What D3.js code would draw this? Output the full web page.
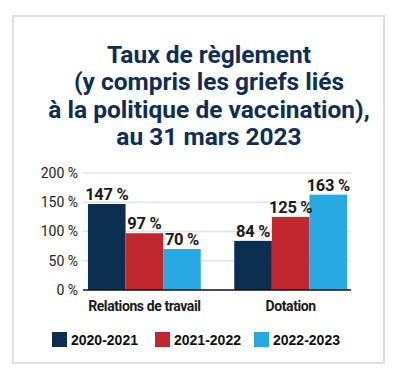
<!DOCTYPE html>
<html>
<head>
<meta charset="utf-8">
<script src="https://cdn.jsdelivr.net/npm/d3@7"></script>
<style>
  body { margin: 0; background: #fff; }
  svg { display: block; }
</style>
</head>
<body>
<svg id="chart" width="401" height="381"></svg>
<script>

// data
const categories = ["Relations de travail", "Dotation"];
const series = ["2020-2021", "2021-2022", "2022-2023"];
const values2020 = [147, 84];
const values2021 = [97, 125];
const values2022 = [70, 163];
const yTicks = [0, 50, 100, 150, 200];
const titleLines = ["Taux de règlement", "(y compris les griefs liés", "à la politique de vaccination),", "au 31 mars 2023"];

const colors = ["#0b2e51", "#c1272f", "#29a9e1"];
const allValues = [values2020, values2021, values2022];

const svg = d3.select('#chart');

// frame
svg.append('rect')
	.attr('x', 13).attr('y', 16)
	.attr('width', 371).attr('height', 347)
	.attr('fill', 'none')
	.attr('stroke', '#e0e0e0')
	.attr('stroke-width', 2);

// title
const title = svg.append('g').attr('class', 'title');
titleLines.forEach(function(line, i) {
	title.append('text')
		.attr('x', 209)
		.attr('y', 63 + i * 27.4)
		.attr('text-anchor', 'middle')
		.style('font-family', 'Roboto, sans-serif')
		.style('font-weight', 700)
		.style('font-size', '24.5px')
		.style('fill', '#0f2d57')
		.text(line);
});

// scales
const y = d3.scaleLinear().domain([0, 200]).range([290, 173]);
const x0 = d3.scaleBand().domain(categories).range([84, 351]).paddingInner(0.229).paddingOuter(0.027);
const x1 = d3.scaleBand().domain(series).range([0, x0.bandwidth()]);

// gridlines
svg.append('g').selectAll('line')
	.data(yTicks.filter(d => d > 0))
	.join('line')
	.attr('x1', 83).attr('x2', 351)
	.attr('y1', d => y(d)).attr('y2', d => y(d))
	.attr('stroke', '#e3e3e3')
	.attr('stroke-width', 1.5);

// y axis labels
const yAxis = d3.axisLeft(y).tickValues(yTicks).tickSize(0).tickPadding(5)
	.tickFormat(d => d + '\u00a0%');
svg.append('g')
	.attr('transform', 'translate(83,0)')
	.call(yAxis)
	.call(g => g.select('.domain').remove())
	.call(g => g.selectAll('text')
		.style('font-family', 'Roboto, sans-serif')
		.style('font-size', '14px')
		.style('fill', '#222'));

// bars
const groups = svg.append('g').selectAll('g')
	.data(categories)
	.join('g')
	.attr('transform', d => 'translate(' + x0(d) + ',0)');

groups.selectAll('rect')
	.data((d, ci) => series.map((s, si) => ({ s: s, si: si, v: allValues[si][ci] })))
	.join('rect')
	.attr('x', d => x1(d.s))
	.attr('y', d => y(d.v))
	.attr('width', x1.bandwidth())
	.attr('height', d => y(0) - y(d.v))
	.attr('fill', d => colors[d.si]);

// value labels
groups.selectAll('text.val')
	.data((d, ci) => series.map((s, si) => ({ s: s, si: si, v: allValues[si][ci] })))
	.join('text')
	.attr('class', 'val')
	.attr('x', d => x1(d.s) + x1.bandwidth() / 2)
	.attr('y', d => y(d.v) - 4)
	.attr('text-anchor', 'middle')
	.style('font-family', 'Roboto, sans-serif')
	.style('font-weight', 700)
	.style('font-size', '16.5px')
	.style('letter-spacing', '-0.3px')
	.style('fill', '#1a1a1a')
	.text(d => d.v + '\u00a0%');

// baseline
svg.append('line')
	.attr('x1', 83).attr('x2', 351)
	.attr('y1', y(0)).attr('y2', y(0))
	.attr('stroke', '#111')
	.attr('stroke-width', 1.5);

// category labels
svg.append('g').selectAll('text')
	.data(categories)
	.join('text')
	.attr('x', d => x0(d) + x0.bandwidth() / 2)
	.attr('y', 311)
	.attr('text-anchor', 'middle')
	.style('font-family', 'Roboto, sans-serif')
	.style('font-weight', 700)
	.style('font-size', '14px')
	.style('letter-spacing', '-0.4px')
	.style('fill', '#1a1a1a')
	.text(d => d);

// legend
const legendX = [52, 155, 254];
const legend = svg.append('g').selectAll('g')
	.data(series)
	.join('g')
	.attr('transform', (d, i) => 'translate(' + legendX[i] + ',332)');
legend.append('rect')
	.attr('width', 15).attr('height', 15)
	.attr('fill', (d, i) => colors[i]);
legend.append('text')
	.attr('x', 19).attr('y', 13)
	.style('font-family', 'Liberation Sans, Arial, sans-serif')
	.style('font-weight', 700)
	.style('font-size', '14px')
	.style('fill', '#111')
	.text(d => d);

</script>
</body>
</html>
